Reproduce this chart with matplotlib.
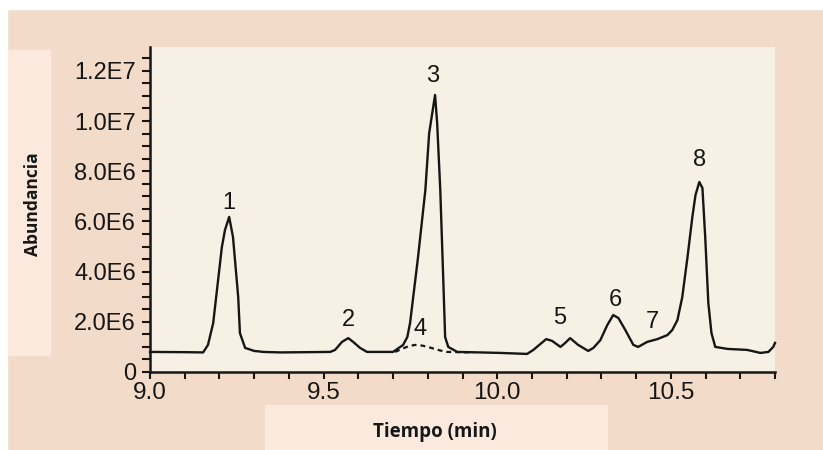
import numpy as np
import matplotlib
matplotlib.use("Agg")
import matplotlib.pyplot as plt
from matplotlib.patches import Rectangle
from matplotlib.ticker import MultipleLocator

# chromatogram trace (time in min, abundance in units of 1E6)
tiempo = [9.000, 9.100, 9.153, 9.167, 9.182, 9.207, 9.216, 9.228, 9.239, 9.254,
          9.259, 9.274, 9.300, 9.326, 9.375, 9.450, 9.519, 9.533, 9.553, 9.571,
          9.585, 9.605, 9.625, 9.700, 9.729, 9.741, 9.749, 9.772, 9.793, 9.804,
          9.821, 9.827, 9.836, 9.844, 9.850, 9.859, 9.885, 9.951, 10.009, 10.086,
          10.104, 10.141, 10.158, 10.182, 10.196, 10.210, 10.233, 10.262, 10.277, 10.297,
          10.317, 10.334, 10.349, 10.369, 10.392, 10.406, 10.432, 10.461, 10.490, 10.504,
          10.519, 10.533, 10.548, 10.562, 10.571, 10.582, 10.591, 10.599, 10.608, 10.617,
          10.628, 10.663, 10.720, 10.758, 10.781, 10.795, 10.800]
abund = [0.80, 0.79, 0.78, 1.08, 1.95, 4.98, 5.66, 6.18, 5.38, 2.99,
         1.55, 0.96, 0.84, 0.80, 0.78, 0.79, 0.80, 0.88, 1.20, 1.35,
         1.20, 0.96, 0.80, 0.80, 1.08, 1.39, 1.95, 4.58, 7.25, 9.52,
         11.04, 9.92, 7.25, 3.94, 1.39, 1.00, 0.80, 0.78, 0.76, 0.72,
         0.88, 1.31, 1.24, 1.00, 1.16, 1.35, 1.08, 0.84, 0.96, 1.27,
         1.87, 2.27, 2.15, 1.67, 1.08, 1.00, 1.20, 1.31, 1.47, 1.67,
         2.07, 2.99, 4.58, 6.18, 7.05, 7.57, 7.33, 5.38, 2.75, 1.55,
         1.00, 0.92, 0.88, 0.76, 0.80, 1.00, 1.16]

# hidden peak 4 (dashed)
t4 = [9.706, 9.725, 9.745, 9.764, 9.785, 9.810, 9.835, 9.856, 9.931]
a4 = [0.80, 0.92, 1.03, 1.08, 1.05, 0.96, 0.86, 0.80, 0.78]

# peak labels
pk_lab = ["1", "2", "3", "4", "5", "6", "7", "8"]
pk_t = [9.228, 9.571, 9.813, 9.778, 10.180, 10.340, 10.447, 10.582]
pk_a = [6.73, 2.07, 11.80, 1.70, 2.15, 2.87, 1.99, 8.45]

ytick_vals = [0, 2, 4, 6, 8, 10, 12]
ytick_txt = ["0", "2.0E6", "4.0E6", "6.0E6", "8.0E6", "1.0E7", "1.2E7"]
xtick_vals = [9.0, 9.5, 10.0, 10.5]
xtick_txt = ["9.0", "9.5", "10.0", "10.5"]

peach = "#f2dcc9"
cream = "#f7f0e4"
panel = "#fbe9dd"
ink = "#161616"

fig = plt.figure(figsize=(8.23, 4.50), dpi=100)
fig.patch.set_facecolor(peach)
W, H = 823., 450.
# white border strips (top and left)
fig.patches.append(Rectangle((0, 1 - 9 / H), 1, 9 / H, transform=fig.transFigure,
                             color="white", zorder=-5))
fig.patches.append(Rectangle((0, 0), 7 / W, 1, transform=fig.transFigure,
                             color="white", zorder=-5))
# lighter panels behind axis titles
fig.patches.append(Rectangle((8 / W, 1 - 355 / H), 42 / W, 305 / H,
                             transform=fig.transFigure, color=panel, zorder=-4))
fig.patches.append(Rectangle((265 / W, 0), 342 / W, 45 / H,
                             transform=fig.transFigure, color=panel, zorder=-4))

ax = fig.add_axes([150 / W, 1 - 372 / H, 625 / W, 325 / H])
ax.set_facecolor(cream)

ax.plot(tiempo, abund, color=ink, lw=1.7, solid_joinstyle="round", clip_on=False)
ax.plot(t4, a4, color=ink, lw=1.6, linestyle=(0, (2.2, 1.8)))

for lab, t, a in zip(pk_lab, pk_t, pk_a):
    ax.text(t, a, lab, ha="center", va="center", fontsize=17,
            family="Liberation Sans", color=ink)

ax.set_xlim(9.0, 10.8)
ax.set_ylim(0, 12.95)
ax.set_xticks(xtick_vals)
ax.set_xticklabels(xtick_txt, family="Liberation Sans", fontsize=17.5)
ax.set_yticks(ytick_vals)
ax.set_yticklabels(ytick_txt, family="Liberation Sans", fontsize=17)
ax.xaxis.set_minor_locator(MultipleLocator(0.1))
ax.yaxis.set_minor_locator(MultipleLocator(0.5))
ax.tick_params(axis="both", which="both", direction="out", width=1.5, color=ink,
               labelcolor=ink)
ax.tick_params(axis="y", which="both", length=6, pad=4)
ax.tick_params(axis="x", which="both", length=5, pad=2)

for s in ["top", "right"]:
    ax.spines[s].set_visible(False)
for s in ["left", "bottom"]:
    ax.spines[s].set_linewidth(1.8)
    ax.spines[s].set_color(ink)

fig.text(33 / W, 1 - 204 / H, "Abundancia", rotation=90, ha="center", va="center",
         fontsize=12.5, fontweight="bold", family="Open Sans", color=ink)
fig.text(435 / W, 1 - 432 / H, "Tiempo (min)", ha="center", va="center",
         fontsize=13.5, fontweight="bold", family="Open Sans", color=ink)

fig.savefig("out.png", dpi=100, facecolor=fig.get_facecolor())
